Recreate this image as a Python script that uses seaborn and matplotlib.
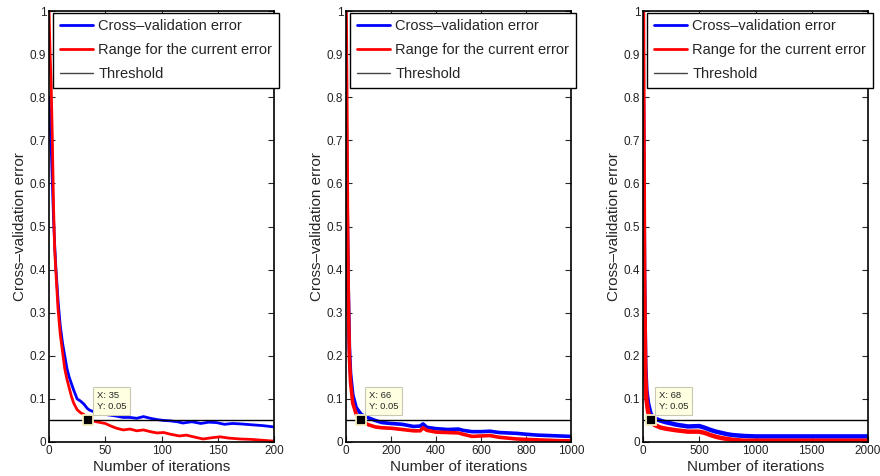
import pandas as pd
import numpy as np
import matplotlib
matplotlib.use("Agg")
import matplotlib.pyplot as plt
import seaborn as sns

# ---- data ----
# panel 1 (200 iterations)
p1_cv_x = [0, 1, 2, 3, 4, 5, 6, 8, 10, 12, 14, 16, 18, 20, 22, 25, 28, 31, 34, 36, 40, 45,
           50, 55, 60, 66, 72, 78, 84, 90, 96, 102, 108, 114, 119, 127, 135, 142, 149, 156,
           163, 170, 180, 190, 200]
p1_cv_y = [0.80, 0.74, 0.68, 0.60, 0.52, 0.46, 0.41, 0.33, 0.27, 0.23, 0.20, 0.17, 0.15,
           0.135, 0.12, 0.10, 0.095, 0.088, 0.078, 0.074, 0.070, 0.066, 0.064, 0.062, 0.060,
           0.057, 0.057, 0.055, 0.059, 0.055, 0.052, 0.050, 0.049, 0.047, 0.044, 0.047,
           0.043, 0.046, 0.045, 0.041, 0.043, 0.042, 0.040, 0.038, 0.035]
p1_rng_x = [0, 1, 2, 3, 4, 5, 6, 8, 10, 12, 14, 16, 18, 20, 22, 25, 28, 31, 34, 35, 38, 42,
            46, 50, 55, 60, 66, 72, 78, 84, 90, 96, 102, 108, 116, 122, 130, 137, 145, 152,
            160, 170, 180, 190, 200]
p1_rng_y = [1.00, 0.90, 0.82, 0.70, 0.55, 0.45, 0.40, 0.31, 0.25, 0.21, 0.17, 0.145, 0.125,
            0.105, 0.090, 0.075, 0.068, 0.064, 0.057, 0.050, 0.050, 0.047, 0.045, 0.043,
            0.037, 0.032, 0.028, 0.030, 0.026, 0.028, 0.024, 0.021, 0.022, 0.018, 0.014,
            0.016, 0.011, 0.007, 0.010, 0.012, 0.009, 0.007, 0.006, 0.004, 0.002]

# panel 2 (1000 iterations)
p2_x = [0, 3, 6, 10, 15, 20, 30, 45, 66, 80, 100, 130, 160, 200, 250, 300, 330, 342, 360,
        400, 450, 500, 520, 560, 600, 640, 680, 720, 760, 800, 850, 900, 950, 1000]
p2_cv_y = [0.80, 0.65, 0.50, 0.35, 0.22, 0.16, 0.11, 0.080, 0.065, 0.060, 0.056, 0.050,
           0.045, 0.043, 0.041, 0.036, 0.037, 0.042, 0.034, 0.031, 0.029, 0.030, 0.027,
           0.024, 0.024, 0.025, 0.022, 0.021, 0.020, 0.018, 0.016, 0.015, 0.014, 0.013]
p2_rng_y = [1.00, 0.80, 0.55, 0.35, 0.20, 0.14, 0.09, 0.065, 0.050, 0.045, 0.040, 0.035,
            0.033, 0.032, 0.029, 0.026, 0.026, 0.033, 0.027, 0.023, 0.022, 0.021, 0.018,
            0.013, 0.014, 0.015, 0.011, 0.009, 0.007, 0.006, 0.005, 0.004, 0.003, 0.003]

# panel 3 (2000 iterations)
p3_x = [0, 5, 10, 20, 30, 45, 68, 100, 150, 200, 300, 400, 500, 550, 600, 650, 700, 750,
        800, 900, 1000, 1200, 1500, 2000]
p3_cv_y = [0.80, 0.60, 0.38, 0.18, 0.12, 0.09, 0.065, 0.055, 0.050, 0.046, 0.040, 0.036,
           0.037, 0.033, 0.028, 0.024, 0.021, 0.018, 0.016, 0.014, 0.013, 0.013, 0.013, 0.013]
p3_rng_y = [1.00, 0.70, 0.40, 0.16, 0.10, 0.07, 0.050, 0.040, 0.034, 0.031, 0.027, 0.024,
            0.024, 0.021, 0.016, 0.012, 0.009, 0.007, 0.005, 0.003, 0.003, 0.003, 0.003, 0.003]

threshold = 0.05
tips = [(35, 0.05), (66, 0.05), (68, 0.05)]
x_max = [200, 1000, 2000]
x_ticks = [[0, 50, 100, 150, 200],
           [0, 200, 400, 600, 800, 1000],
           [0, 500, 1000, 1500, 2000]]
y_ticks = [0, 0.1, 0.2, 0.3, 0.4, 0.5, 0.6, 0.7, 0.8, 0.9, 1]
y_labels = ["0", "0.1", "0.2", "0.3", "0.4", "0.5", "0.6", "0.7", "0.8", "0.9", "1"]

panels = [
    (p1_cv_x, p1_cv_y, p1_rng_x, p1_rng_y),
    (p2_x, p2_cv_y, p2_x, p2_rng_y),
    (p3_x, p3_cv_y, p3_x, p3_rng_y),
]
line_widths = [2.0, 2.6, 3.2]

sns.set_style("ticks")
plt.rcParams["font.family"] = ["Liberation Sans", "DejaVu Sans"]

fig = plt.figure(figsize=(8.8, 4.76), dpi=100)
lefts = [49 / 880, 346 / 880, 643 / 880]

for i, (cx, cy, rx, ry) in enumerate(panels):
    ax = fig.add_axes([lefts[i], 34 / 476, 225 / 880, 431 / 476])

    df = pd.concat([
        pd.DataFrame({"Iteration": cx, "Error": cy, "Series": "Cross–validation error"}),
        pd.DataFrame({"Iteration": rx, "Error": ry, "Series": "Range for the current error"}),
    ])
    sns.lineplot(data=df, x="Iteration", y="Error", hue="Series",
                 palette={"Cross–validation error": "#0000ff",
                          "Range for the current error": "#ff0000"},
                 linewidth=line_widths[i], legend=False, ax=ax, sort=False)
    ax.axhline(threshold, color="black", linewidth=1.0)

    ax.set_xlim(0, x_max[i])
    ax.set_ylim(0, 1)
    ax.set_xticks(x_ticks[i])
    ax.set_yticks(y_ticks)
    ax.set_yticklabels(y_labels)
    ax.tick_params(direction="in", top=True, right=True, labelsize=8.5,
                   length=4, width=0.8, pad=2, labelcolor="#222222")
    for s in ax.spines.values():
        s.set_visible(True)
        s.set_linewidth(1.2)
        s.set_color("black")
    ax.set_xlabel("Number of iterations", fontsize=11, labelpad=2)
    ax.set_ylabel("Cross–validation error", fontsize=11, labelpad=2)

    # legend
    handles = [
        plt.Line2D([], [], color="#0000ff", linewidth=2),
        plt.Line2D([], [], color="#ff0000", linewidth=2),
        plt.Line2D([], [], color="#444444", linewidth=1),
    ]
    leg = ax.legend(handles, ["Cross–validation error", "Range for the current error",
                              "Threshold"],
                    loc="upper left", bbox_to_anchor=(0.018, 0.996), fontsize=10.5,
                    frameon=True, fancybox=False, framealpha=1, edgecolor="black",
                    borderpad=0.45, handlelength=2.3, handletextpad=0.35,
                    labelspacing=0.68, borderaxespad=0)
    leg.get_frame().set_linewidth(1.0)

    # data tip
    tx, ty = tips[i]
    ax.plot([tx], [ty], marker="s", markersize=6.5, color="black",
            markeredgecolor="#f5f0c0", markeredgewidth=1.3, zorder=5)
    ax.annotate(f"X: {tx}\nY: {ty}", xy=(tx, ty), xytext=(6, 7),
                textcoords="offset points", fontsize=6.8, ha="left", va="bottom",
                linespacing=1.3,
                bbox=dict(boxstyle="square,pad=0.4", facecolor="#ffffe1",
                          edgecolor="#c8c8b4", linewidth=0.8), zorder=6)

fig.savefig("out.png", dpi=100)
